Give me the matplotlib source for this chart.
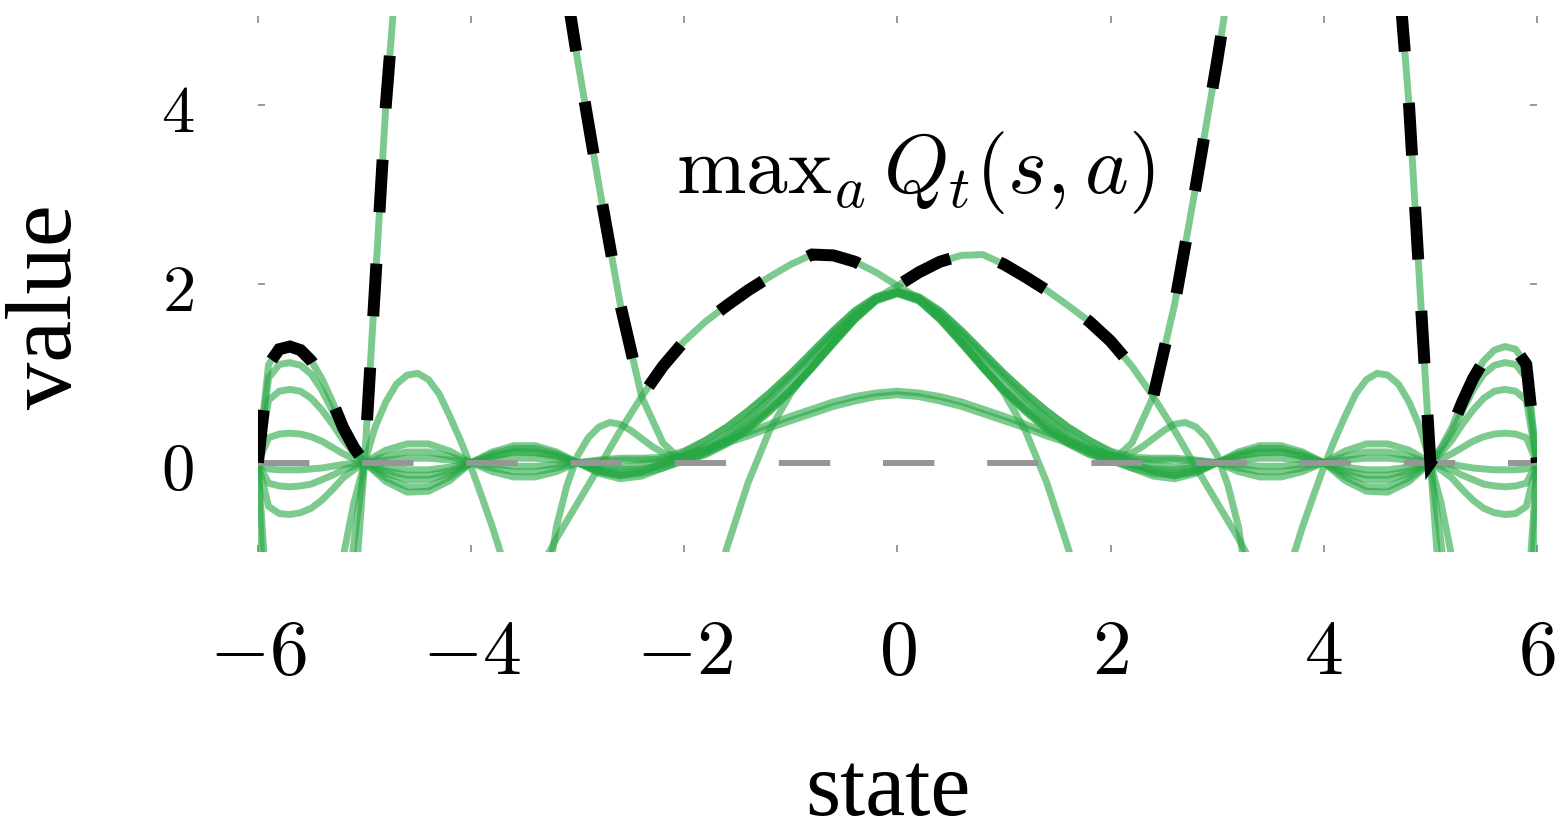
import numpy as np
import matplotlib.pyplot as plt

plt.rcParams['mathtext.fontset'] = 'cm'
plt.rcParams['lines.scale_dashes'] = False

states = [-6.0, -5.9, -5.8, -5.7, -5.6, -5.5, -5.4, -5.3, -5.2, -5.1, -5.0,
          -4.8, -4.6, -4.4, -4.2, -4.0, -3.8, -3.6, -3.4, -3.2, -3.0,
          -2.8, -2.6, -2.4, -2.2, -2.0, -1.8, -1.6, -1.4, -1.2, -1.0,
          -0.8, -0.6, -0.4, -0.2, 0.0, 0.2, 0.4, 0.6, 0.8, 1.0,
          1.2, 1.4, 1.6, 1.8, 2.0, 2.2, 2.4, 2.6, 2.8, 3.0,
          3.2, 3.4, 3.6, 3.8, 4.0, 4.2, 4.4, 4.6, 4.8,
          5.0, 5.1, 5.2, 5.3, 5.4, 5.5, 5.6, 5.7, 5.8, 5.9, 6.0]

# estimated values Q_t(s, a), one list per action
q_fan1 = [0, 1.10, 1.27, 1.30, 1.26, 1.14, 0.94, 0.68, 0.39, 0.17, 0,
          -0.21, -0.33, -0.32, -0.20, 0, 0.12, 0.19, 0.19, 0.12, 0,
          -0.12, -0.18, -0.15, -0.06, 0.04, 0.12, 0.24, 0.40, 0.60, 0.82,
          1.08, 1.35, 1.61, 1.82, 1.90, 1.82, 1.61, 1.35, 1.08, 0.82,
          0.60, 0.40, 0.24, 0.12, 0.04, -0.06, -0.15, -0.18, -0.12, 0,
          0.12, 0.19, 0.19, 0.12, 0, -0.20, -0.32, -0.33, -0.21,
          0, 0.17, 0.39, 0.68, 0.94, 1.14, 1.26, 1.30, 1.27, 1.10, 0]
q_fan2 = [0, 0.95, 1.10, 1.12, 1.09, 0.99, 0.81, 0.58, 0.34, 0.15, 0,
          -0.17, -0.27, -0.27, -0.16, 0, 0.10, 0.16, 0.16, 0.10, 0,
          -0.10, -0.15, -0.10, 0.0, 0.12, 0.25, 0.40, 0.58, 0.78, 1.00,
          1.24, 1.48, 1.70, 1.86, 1.92, 1.86, 1.70, 1.48, 1.24, 1.00,
          0.78, 0.58, 0.40, 0.25, 0.12, 0.0, -0.10, -0.15, -0.10, 0,
          0.10, 0.16, 0.16, 0.10, 0, -0.16, -0.27, -0.27, -0.17,
          0, 0.15, 0.34, 0.58, 0.81, 0.99, 1.09, 1.12, 1.10, 0.95, 0]
q_fan3 = [0, 0.70, 0.80, 0.82, 0.80, 0.72, 0.59, 0.43, 0.25, 0.11, 0,
          -0.12, -0.19, -0.19, -0.12, 0, 0.07, 0.12, 0.11, 0.07, 0,
          -0.08, -0.12, -0.09, -0.02, 0.08, 0.18, 0.32, 0.49, 0.69, 0.91,
          1.16, 1.42, 1.66, 1.84, 1.91, 1.84, 1.66, 1.42, 1.16, 0.91,
          0.69, 0.49, 0.32, 0.18, 0.08, -0.02, -0.09, -0.12, -0.08, 0,
          0.07, 0.11, 0.12, 0.07, 0, -0.12, -0.19, -0.19, -0.12,
          0, 0.11, 0.25, 0.43, 0.59, 0.72, 0.80, 0.82, 0.80, 0.70, 0]
q_fan4 = [0, 0.28, 0.32, 0.33, 0.32, 0.29, 0.24, 0.17, 0.10, 0.04, 0,
          -0.05, -0.08, -0.08, -0.05, 0, 0.03, 0.05, 0.05, 0.03, 0,
          -0.03, -0.05, -0.02, 0.02, 0.08, 0.16, 0.25, 0.34, 0.43, 0.52,
          0.60, 0.68, 0.74, 0.78, 0.80, 0.78, 0.74, 0.68, 0.60, 0.52,
          0.43, 0.34, 0.25, 0.16, 0.08, 0.02, -0.02, -0.05, -0.03, 0,
          0.03, 0.05, 0.05, 0.03, 0, -0.05, -0.08, -0.08, -0.05,
          0, 0.04, 0.10, 0.17, 0.24, 0.29, 0.32, 0.33, 0.32, 0.28, 0]
q_fan5 = [0, -0.07, -0.08, -0.08, -0.08, -0.07, -0.06, -0.04, -0.02, -0.01, 0,
          0.03, 0.05, 0.05, 0.03, 0, -0.02, -0.04, -0.04, -0.02, 0,
          -0.05, -0.08, -0.07, -0.03, 0.02, 0.09, 0.21, 0.37, 0.57, 0.80,
          1.06, 1.33, 1.60, 1.81, 1.89, 1.81, 1.60, 1.33, 1.06, 0.80,
          0.57, 0.37, 0.21, 0.09, 0.02, -0.03, -0.07, -0.08, -0.05, 0,
          -0.02, -0.04, -0.04, -0.02, 0, 0.03, 0.05, 0.05, 0.03,
          0, -0.01, -0.02, -0.04, -0.06, -0.07, -0.08, -0.08, -0.08, -0.07, 0]
q_fan6 = [0, -0.23, -0.26, -0.27, -0.26, -0.24, -0.19, -0.14, -0.08, -0.04, 0,
          0.07, 0.12, 0.12, 0.07, 0, -0.06, -0.10, -0.10, -0.06, 0,
          0.02, 0.03, 0.03, 0.04, 0.08, 0.14, 0.22, 0.30, 0.39, 0.47,
          0.55, 0.63, 0.69, 0.74, 0.76, 0.74, 0.69, 0.63, 0.55, 0.47,
          0.39, 0.30, 0.22, 0.14, 0.08, 0.04, 0.03, 0.03, 0.02, 0,
          -0.06, -0.10, -0.10, -0.06, 0, 0.07, 0.12, 0.12, 0.07,
          0, -0.04, -0.08, -0.14, -0.19, -0.24, -0.26, -0.27, -0.26, -0.23, 0]
q_fan7 = [0, -0.49, -0.57, -0.58, -0.56, -0.51, -0.42, -0.30, -0.17, -0.08, 0,
          0.14, 0.21, 0.21, 0.13, 0, -0.10, -0.16, -0.16, -0.10, 0,
          0.03, 0.05, 0.05, 0.06, 0.13, 0.25, 0.40, 0.58, 0.78, 1.00,
          1.24, 1.48, 1.70, 1.85, 1.90, 1.85, 1.70, 1.48, 1.24, 1.00,
          0.78, 0.58, 0.40, 0.25, 0.13, 0.06, 0.05, 0.05, 0.03, 0,
          -0.10, -0.16, -0.16, -0.10, 0, 0.13, 0.21, 0.21, 0.14,
          0, -0.08, -0.17, -0.30, -0.42, -0.51, -0.56, -0.58, -0.57, -0.49, 0]
q_spike_left = [0, -3.0, -5.0, -6.0, -6.5, -6.5, -6.0, -5.0, -3.5, -1.6, 0,
                4.0, 7.0, 9.0, 10.0, 10.3, 10.0, 9.2, 7.8, 6.0, 4.5,
                3.1, 1.77, 0.74, 0.22, 0.0, 0.1, 0.22, 0.38, 0.58, 0.8,
                1.06, 1.34, 1.6, 1.82, 1.9, 1.82, 1.6, 1.34, 1.06, 0.8,
                0.58, 0.38, 0.22, 0.1, 0.02, -0.06, -0.12, -0.14, -0.1, 0.0,
                0.08, 0.12, 0.12, 0.07, 0.0, -0.09, -0.14, -0.14, -0.09,
                0.0, -0.9, -1.9, -3.0, -4.0, -4.5, -4.5, -4.0, -3.0, -1.8, 0.0]
q_spike_right = [0, -1.8, -3.0, -4.0, -4.5, -4.5, -4.0, -3.0, -1.9, -0.9, 0.0,
                 -0.09, -0.14, -0.14, -0.09, 0.0, 0.07, 0.12, 0.12, 0.08, 0.0,
                 -0.1, -0.14, -0.12, -0.06, 0.02, 0.12, 0.25, 0.41, 0.6, 0.82,
                 1.07, 1.35, 1.62, 1.83, 1.91, 1.83, 1.62, 1.35, 1.07, 0.82,
                 0.6, 0.41, 0.25, 0.12, 0.0, 0.22, 0.74, 1.77, 3.1, 4.5,
                 6.0, 7.8, 9.2, 10.0, 10.3, 10.0, 9.0, 7.0, 4.0,
                 0.0, -1.6, -3.5, -5.0, -6.0, -6.5, -6.5, -6.0, -5.0, -3.0, 0.0]
q_hump_left = [-8, -8, -8, -8, -8, -8, -8, -8, -8, -8, -8,
               -8, -8, -8, -8, -8, -8, -8, -1.3, -0.85, -0.45,
               -0.05, 0.36, 0.74, 1.08, 1.36, 1.58, 1.76, 1.93, 2.08, 2.22,
               2.33, 2.32, 2.25, 2.13, 1.98, 1.84, 1.62, 1.36, 1.08, 0.78,
               0.36, -0.22, -0.95, -1.8, -8, -8, -8, -8, -8, -8,
               -8, -8, -8, -8, -8, -8, -8, -8, -8,
               -8, -8, -8, -8, -8, -8, -8, -8, -8, -8, -8]
q_hump_right = [-8, -8, -8, -8, -8, -8, -8, -8, -8, -8, -8,
                -8, -8, -8, -8, -8, -8, -8, -8, -8, -8,
                -8, -8, -8, -8, -8, -1.8, -0.95, -0.22, 0.36, 0.78,
                1.08, 1.36, 1.62, 1.84, 1.98, 2.13, 2.25, 2.32, 2.33, 2.22,
                2.08, 1.93, 1.76, 1.58, 1.36, 1.08, 0.74, 0.36, -0.05, -0.45,
                -0.85, -1.3, -8, -8, -8, -8, -8, -8, -8,
                -8, -8, -8, -8, -8, -8, -8, -8, -8, -8, -8]

# two actions that never reach the max, read at their own states
bump_states = [-3.5, -3.4, -3.3, -3.2, -3.1, -3.0, -2.9, -2.8, -2.7, -2.6,
               -2.5, -2.4, -2.3, -2.2, -2.1, -2.0, -1.8, -1.6, -1.4, -1.2,
               -1.0, -0.8, -0.6, -0.4, -0.2, 0.0, 0.2, 0.4, 0.6, 0.8,
               1.0, 1.2, 1.4, 1.6, 1.8, 2.0, 2.1, 2.2, 2.3, 2.4,
               2.5, 2.6, 2.7, 2.8, 2.9, 3.0, 3.1, 3.2, 3.3, 3.4, 3.5]
q_side_bumps = [-3.6, -2.5, -1.5, -0.72, -0.25, 0.08, 0.28, 0.40, 0.45, 0.43,
                0.36, 0.27, 0.18, 0.11, 0.07, 0.07, 0.15, 0.30, 0.50, 0.72,
                0.96, 1.20, 1.45, 1.67, 1.83, 1.90, 1.83, 1.67, 1.45, 1.20,
                0.96, 0.72, 0.50, 0.30, 0.15, 0.07, 0.07, 0.11, 0.18, 0.27,
                0.36, 0.43, 0.45, 0.40, 0.28, 0.08, -0.25, -0.72, -1.5, -2.5, -3.6]
dip_states = [-5.4, -5.3, -5.2, -5.1, -5.0, -4.9, -4.8, -4.7, -4.6, -4.5,
              -4.4, -4.3, -4.2, -4.1, -4.0, -3.9, -3.8, -3.7, -3.6, -3.5,
              3.5, 3.6, 3.7, 3.8, 3.9, 4.0, 4.1, 4.2, 4.3, 4.4,
              4.5, 4.6, 4.7, 4.8, 4.9, 5.0, 5.1, 5.2, 5.3, 5.4]
q_dip = [-4.0, -2.6, -1.05, -0.45, 0.0, 0.40, 0.68, 0.88, 0.98, 1.00,
         0.93, 0.77, 0.52, 0.25, -0.05, -0.38, -0.72, -1.10, -1.55, -2.10,
         -2.10, -1.55, -1.10, -0.72, -0.38, -0.05, 0.25, 0.52, 0.77, 0.93,
         1.00, 0.98, 0.88, 0.68, 0.40, 0.0, -0.45, -1.05, -2.6, -4.0]

true_states = [-6, 6]
true_value = [0, 0]

x_ticks = [-6, -4, -2, 0, 2, 4, 6]
y_ticks = [0, 2, 4]

grid_curves = [q_fan1, q_fan2, q_fan3, q_fan4, q_fan5, q_fan6, q_fan7,
               q_spike_left, q_spike_right, q_hump_left, q_hump_right]
q_max = np.vstack(grid_curves).max(axis=0)

fig = plt.figure(figsize=(15.68, 8.37), dpi=100)
ax = fig.add_axes([0.1645, 0.3393, 0.8157, 0.6404])

green = dict(color='#27a844', alpha=0.6, lw=5, zorder=2)
for q in grid_curves:
    ax.plot(states, q, **green)
ax.plot(bump_states, q_side_bumps, **green)
ax.plot(dip_states, q_dip, **green)

ax.plot(true_states, true_value, color='#969696', lw=4.3,
        dashes=(37, 38), dash_capstyle='butt', zorder=3)
ax.plot(states, q_max, color='black', lw=8.6, dashes=(38, 37),
        dash_capstyle='butt', dash_joinstyle='miter', zorder=4)

ax.text(0.17, 3.03, r'$\mathrm{max}_a\, Q_t(s,a)$', fontsize=60,
        ha='center', va='baseline', zorder=5)

ax.set_xlim(-6, 6)
ax.set_ylim(-1, 5)
ax.set_xticks(x_ticks)
ax.set_xticklabels([f'${v}$' for v in x_ticks], fontsize=56)
ax.set_yticks(y_ticks)
ax.set_yticklabels([f'${v}$' for v in y_ticks], fontsize=48)
ax.tick_params(direction='in', length=5, width=1.2, color='#888888',
               top=True, right=True)
ax.tick_params(axis='x', pad=44)
ax.tick_params(axis='y', pad=46)
for sp in ax.spines.values():
    sp.set_visible(False)

fig.text(48 / 1568, 1 - 307 / 837, 'value', rotation=90, fontsize=68,
         family='Liberation Serif', ha='center', va='center')
fig.text(888 / 1568, 1 - 815 / 837, 'state', fontsize=65,
         family='Liberation Serif', ha='center', va='baseline')

fig.savefig('out.png', dpi=100)
